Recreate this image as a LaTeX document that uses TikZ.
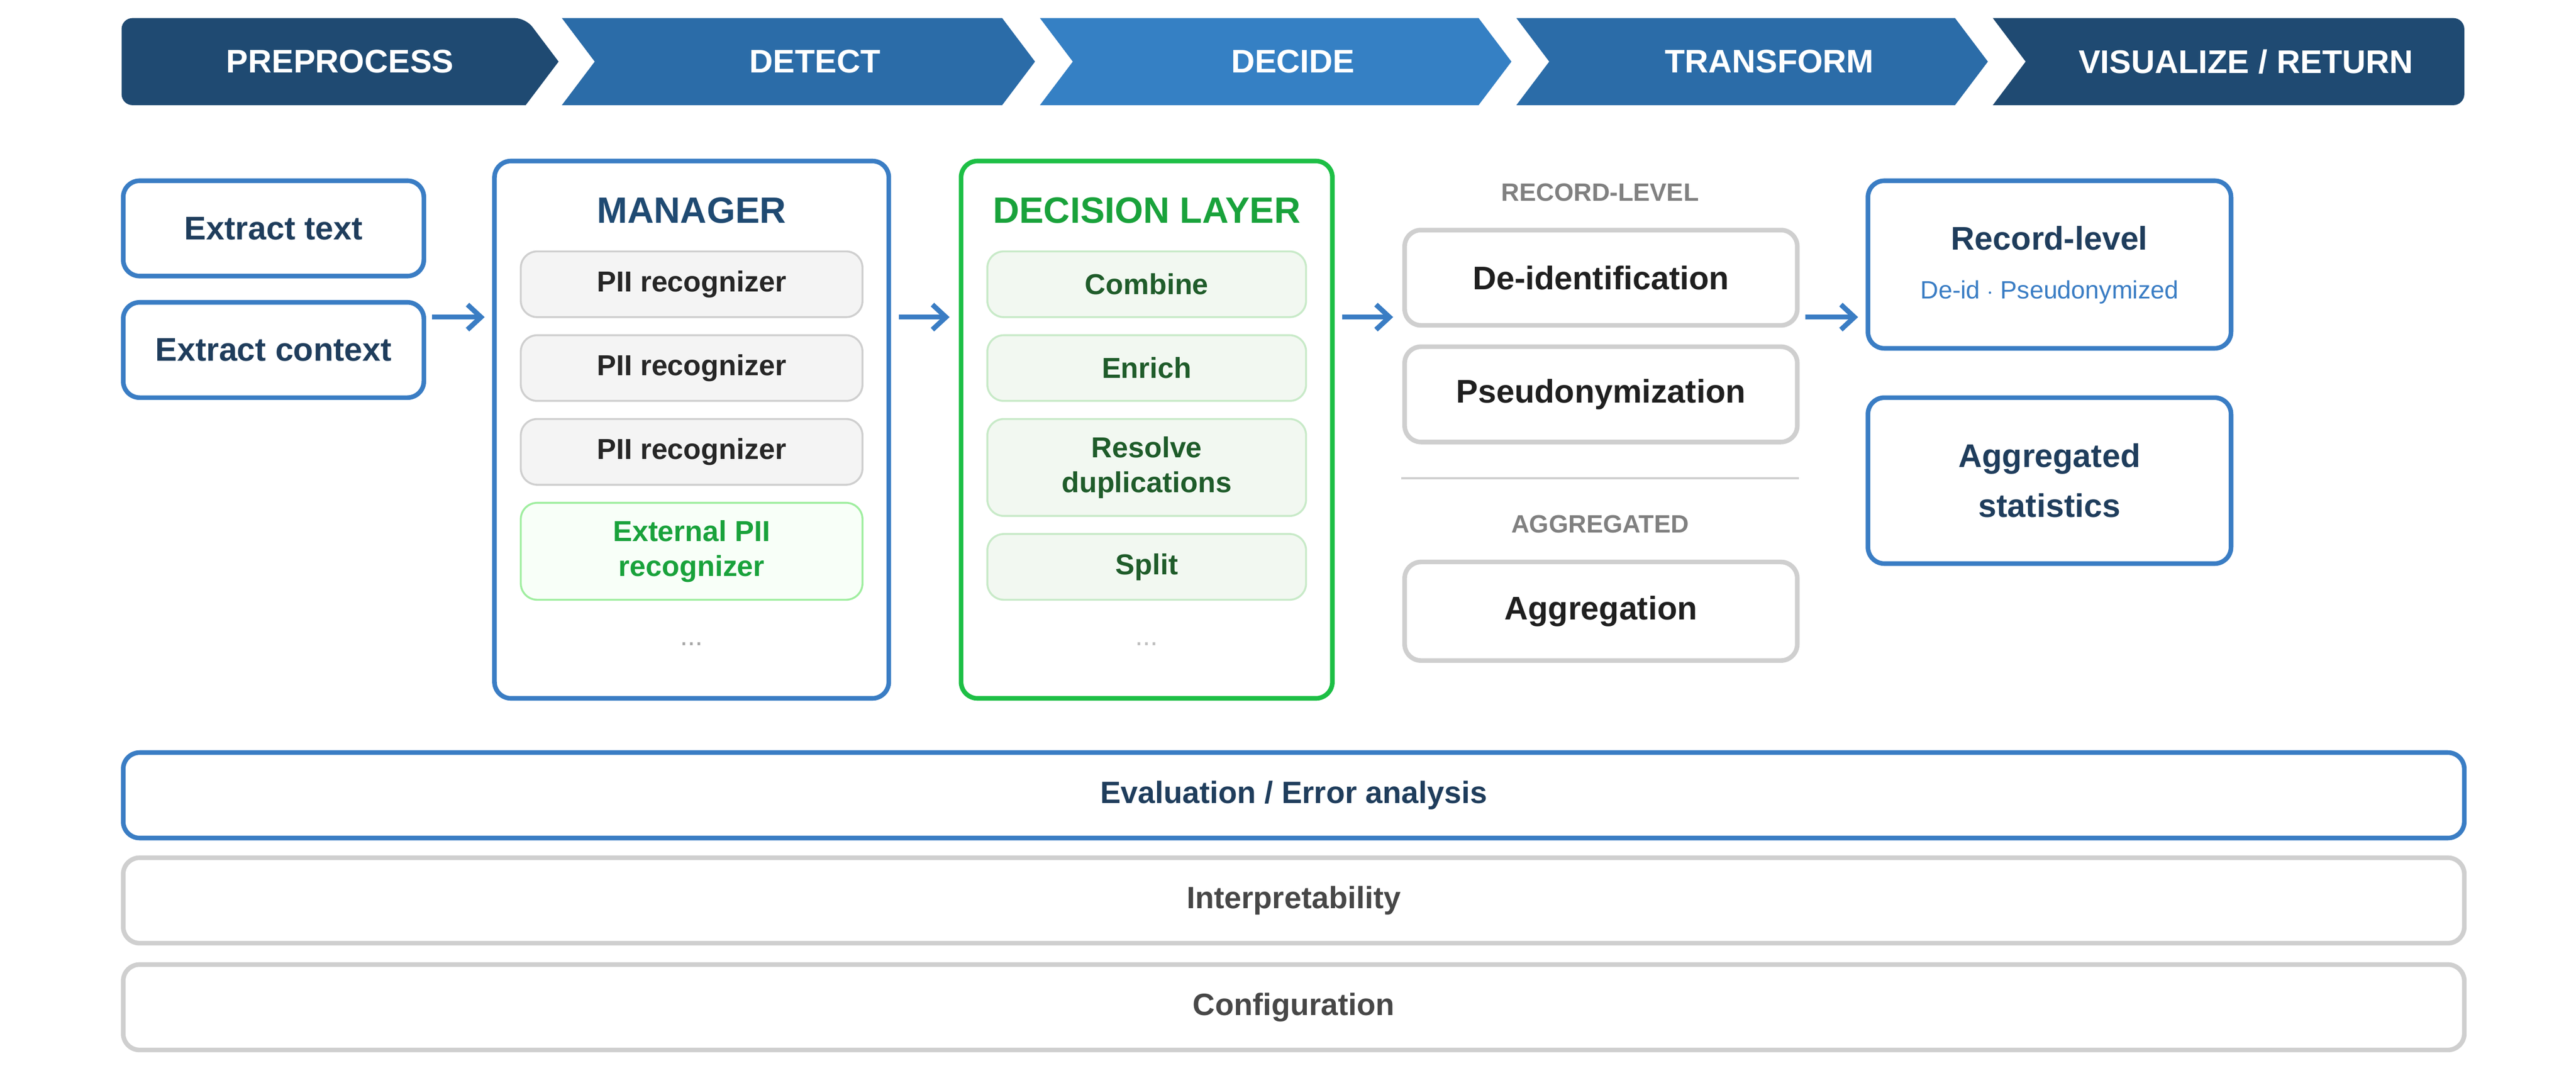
\documentclass[tikz,border=0pt]{standalone}
\usepackage{fontspec}
\setmainfont{Liberation Sans}
\usetikzlibrary{arrows.meta}
\definecolor{navy}{HTML}{1F4A72}
\definecolor{midblue}{HTML}{2B6CA8}
\definecolor{liteblue}{HTML}{3580C4}
\definecolor{edgeblue}{HTML}{3A7DC4}
\definecolor{txtnavy}{HTML}{1F3D5C}
\definecolor{grnedge}{HTML}{1DBF45}
\definecolor{grntxt}{HTML}{1F5C2A}
\definecolor{grnfill}{HTML}{F2F8F1}
\definecolor{grnline}{HTML}{C8EAC8}
\definecolor{grayedge}{HTML}{CFCFCF}
\definecolor{grayfill}{HTML}{F4F4F4}
\begin{document}
\begin{tikzpicture}[x=0.03cm,y=-0.03cm,
    box/.style 2 args={draw=edgeblue, line width=2.4pt, rounded corners=0.3cm, fill=white,
      minimum width=#1*0.03cm, minimum height=#2*0.03cm, align=center,
      font=\fontsize{17}{20}\selectfont\bfseries, text=txtnavy},
    item/.style 2 args={draw=grayedge, line width=1pt, rounded corners=0.3cm, fill=grayfill,
      minimum width=#1*0.03cm, minimum height=#2*0.03cm, align=center,
      font=\fontsize{15}{18}\selectfont\bfseries, text=black!85},
    gitem/.style 2 args={item={#1}{#2}, draw=grnline, fill=grnfill, text=grntxt},
    gbox/.style 2 args={box={#1}{#2}, draw=grayedge, text=black!88},
    bar/.style={box={1425}{52}, font=\fontsize{16}{19}\selectfont\bfseries},
    head/.style={font=\fontsize{17}{20}\selectfont\bfseries, text=white},
    grouplabel/.style={font=\fontsize{13}{16}\selectfont\bfseries, text=black!50},
    arr/.style={-{Straight Barb[length=7pt,width=13pt]}, draw=edgeblue, line width=2.6pt}]
  \useasboundingbox (0,0) rectangle (1568,653);

  % stage banner
  \fill[navy, rounded corners=0.2cm] (74,11) -- (320,11) [sharp corners] -- (340,37.5) -- (320,64) [rounded corners=0.2cm] -- (74,64) -- cycle;
  \fill[midblue] (342,11) -- (610,11) -- (630,37.5) -- (610,64) -- (342,64) -- (362,37.5) -- cycle;
  \fill[liteblue] (633,11) -- (900,11) -- (920,37.5) -- (900,64) -- (633,64) -- (653,37.5) -- cycle;
  \fill[midblue] (923,11) -- (1190,11) -- (1210,37.5) -- (1190,64) -- (923,64) -- (943,37.5) -- cycle;
  \fill[navy, rounded corners=0.2cm] (1500,11) -- (1500,64) [sharp corners] -- (1213,64) -- (1233,37.5) -- (1213,11) [rounded corners=0.2cm] -- cycle;
  \node[head] (pre) at (207,37.5) {PREPROCESS};
  \node[head] (det) at (496,37.5) {DETECT};
  \node[head] (dec) at (787,37.5) {DECIDE};
  \node[head] (trf) at (1077,37.5) {TRANSFORM};
  \node[head] (vis) at (1367,37.5) {VISUALIZE / RETURN};

  % preprocess
  \node[box={183}{58}] (ext) at (166.5,139) {Extract text};
  \node[box={183}{58}] (ctx) at (166.5,213) {Extract context};

  % detect
  \node[box={240}{327}] (mgr) at (421,261.5) {};
  \node[font=\fontsize{19}{22}\selectfont\bfseries, text=navy] (mgrt) at (421,128) {MANAGER};
  \node[item={208}{40}] (pii1) at (421,173) {PII recognizer};
  \node[item={208}{40}] (pii2) at (421,224) {PII recognizer};
  \node[item={208}{40}] (pii3) at (421,275) {PII recognizer};
  \node[gitem={208}{59}, draw=grnline!80!green, fill=grnfill!70!green!8, text=grnedge!85!black] (expii) at (421,335.5) {External PII\\recognizer};
  \node[text=black!35, font=\Large] (mdots) at (421,392) {...};

  % decide
  \node[box={226}{327}, draw=grnedge] (dl) at (698,261.5) {};
  \node[font=\fontsize{19}{22}\selectfont\bfseries, text=grnedge!85!black] (dlt) at (698,128) {DECISION LAYER};
  \node[gitem={194}{40}] (comb) at (698,173) {Combine};
  \node[gitem={194}{40}] (enr) at (698,224) {Enrich};
  \node[gitem={194}{59}] (dup) at (698,284.5) {Resolve\\duplications};
  \node[gitem={194}{40}] (spl) at (698,345) {Split};
  \node[text=black!25, font=\Large] (ddots) at (698,392) {...};

  % transform
  \node[grouplabel] (rl) at (974,117) {RECORD-LEVEL};
  \node[gbox={239}{58}] (deid) at (974.5,169) {De-identification};
  \node[gbox={239}{58}] (pseu) at (974.5,240) {Pseudonymization};
  \coordinate (sepl) at (853,291); \coordinate (sepr) at (1095,291);
  \draw[grayedge, line width=1pt] (sepl) -- (sepr);
  \node[grouplabel] (agl) at (974,319) {AGGREGATED};
  \node[gbox={239}{60}] (aggr) at (974.5,372) {Aggregation};

  % visualize / return
  \node[box={221}{102}] (rec) at (1247.5,161) {};
  \node[font=\fontsize{17}{20}\selectfont\bfseries, text=txtnavy] (rect) at (1247.5,145) {Record-level};
  \node[font=\fontsize{13}{16}\selectfont, text=edgeblue] (recs) at (1247.5,178) {De-id $\cdot$ Pseudonymized};
  \node[box={221}{101}, font=\fontsize{17}{26}\selectfont\bfseries] (agst) at (1247.5,292.5) {Aggregated\\statistics};

  % connectors
  \coordinate (a1s) at (263,193); \coordinate (a1e) at (295,193);
  \coordinate (a2s) at (547,193); \coordinate (a2e) at (578,193);
  \coordinate (a3s) at (817,193); \coordinate (a3e) at (848,193);
  \coordinate (a4s) at (1099,193); \coordinate (a4e) at (1131,193);
  \draw[arr] (a1s) -- (a1e);
  \draw[arr] (a2s) -- (a2e);
  \draw[arr] (a3s) -- (a3e);
  \draw[arr] (a4s) -- (a4e);

  % cross-cutting bars
  \node[bar] (eval) at (787.5,484) {Evaluation / Error analysis};
  \node[bar, draw=grayedge, text=black!72] (intp) at (787.5,548) {Interpretability};
  \node[bar, draw=grayedge, text=black!72] (conf) at (787.5,613) {Configuration};
\end{tikzpicture}
\end{document}
